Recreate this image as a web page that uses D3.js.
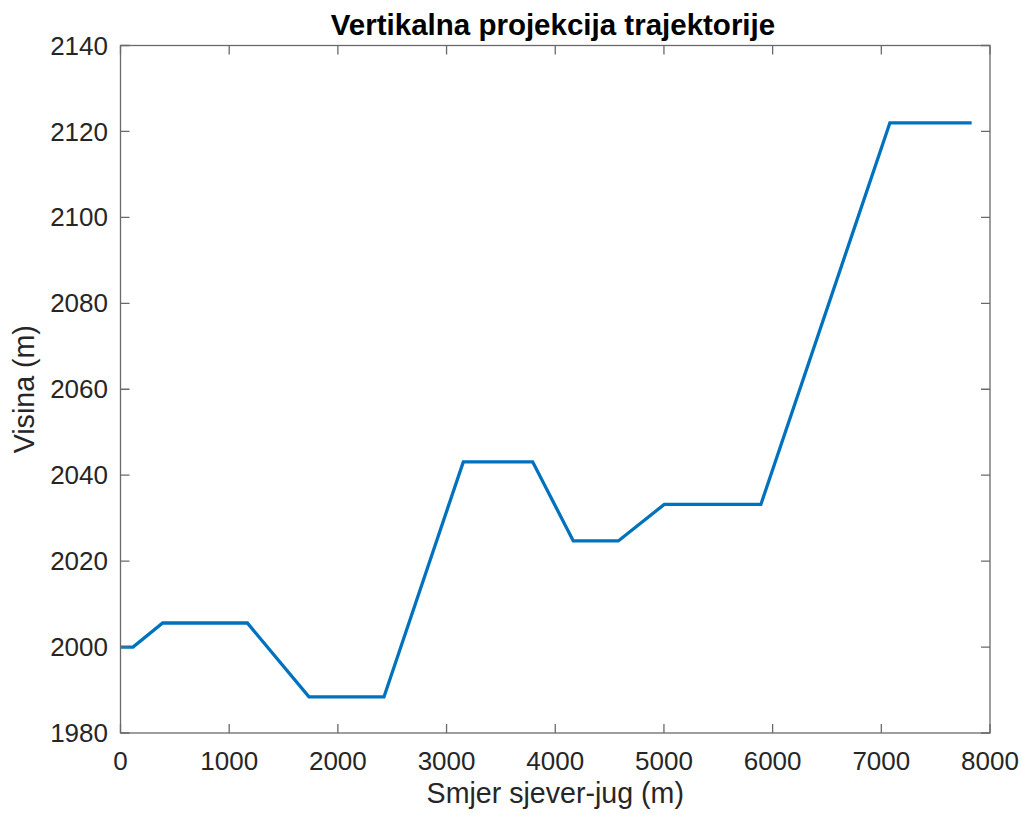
<!DOCTYPE html>
<html>
<head>
  <meta charset="utf-8">
  <title>Vertikalna projekcija</title>
  <style type="text/css">
body{
  margin: 0;
  background: #fff;
}
svg text{
  font-family: "Liberation Sans", Arial, Helvetica, sans-serif;
  fill: #262626;
}
  </style>
</head>
<body>
<div id="chart"></div>
<script src="https://cdn.jsdelivr.net/npm/d3@7"></script>
<script type="text/javascript">
// trajectory points
var distance = [0, 115, 388, 1167, 1734, 2424, 3154, 3792, 4166, 4580, 5003, 5892, 7079, 7831];
var height   = [2000, 2000, 2005.6, 2005.6, 1988.4, 1988.4, 2043.1, 2043.1, 2024.7, 2024.7, 2033.2, 2033.2, 2122, 2122];
var xTicks = [0, 1000, 2000, 3000, 4000, 5000, 6000, 7000, 8000];
var yTicks = [1980, 2000, 2020, 2040, 2060, 2080, 2100, 2120, 2140];

var W = 1022, H = 819;
// plot box edges (note: "top" is reserved by the browser window)
var boxL = 120.5, boxR = 990, boxT = 45.5, boxB = 733;

var svg = d3.select("#chart").append("svg")
    .attr("width", W)
    .attr("height", H);

var x = d3.scaleLinear().domain([0, 8000]).range([boxL, boxR]);
var y = d3.scaleLinear().domain([1980, 2140]).range([boxB, boxT]);

var axisColor = "#6a6a6a";
var tickLen = 9;

// data line
var line = d3.line()
    .x(function (d, i) { return x(distance[i]); })
    .y(function (d) { return y(d); });

svg.append("path")
    .datum(height)
    .attr("d", line)
    .attr("fill", "none")
    .attr("stroke", "#0072BD")
    .attr("stroke-width", 3.3)
    .attr("stroke-linejoin", "miter");

// box
svg.append("rect")
    .attr("x", boxL)
    .attr("y", boxT)
    .attr("width", boxR - boxL)
    .attr("height", boxB - boxT)
    .attr("fill", "none")
    .attr("stroke", axisColor)
    .attr("stroke-width", 1.3);

// ticks on all four sides, pointing inward
svg.selectAll(".xt")
    .data(xTicks)
    .enter()
    .append("path")
    .attr("d", function (d) {
      var px = x(d);
      return "M" + px + "," + boxB + "V" + (boxB - tickLen) +
             "M" + px + "," + boxT + "V" + (boxT + tickLen);
    })
    .attr("stroke", axisColor)
    .attr("stroke-width", 1.3);

svg.selectAll(".yt")
    .data(yTicks)
    .enter()
    .append("path")
    .attr("d", function (d) {
      var py = y(d);
      return "M" + boxL + "," + py + "H" + (boxL + tickLen) +
             "M" + boxR + "," + py + "H" + (boxR - tickLen);
    })
    .attr("stroke", axisColor)
    .attr("stroke-width", 1.3);

// tick labels
svg.selectAll(".xl")
    .data(xTicks)
    .enter()
    .append("text")
    .attr("x", function (d) { return x(d); })
    .attr("y", 770)
    .style("text-anchor", "middle")
    .style("font-size", "26px")
    .text(function (d) { return d; });

svg.selectAll(".yl")
    .data(yTicks)
    .enter()
    .append("text")
    .attr("x", 108)
    .attr("y", function (d) { return y(d); })
    .attr("dy", "0.35em")
    .style("text-anchor", "end")
    .style("font-size", "26px")
    .text(function (d) { return d; });

// axis labels
svg.append("text")
    .attr("x", (boxL + boxR) / 2)
    .attr("y", 803)
    .style("text-anchor", "middle")
    .style("font-size", "28.6px")
    .text("Smjer sjever-jug (m)");

svg.append("text")
    .attr("transform", "translate(34," + ((boxT + boxB) / 2) + ") rotate(-90)")
    .style("text-anchor", "middle")
    .style("font-size", "28.6px")
    .text("Visina (m)");

// title
svg.append("text")
    .attr("x", 553)
    .attr("y", 35)
    .style("text-anchor", "middle")
    .style("font-size", "29.5px")
    .style("font-weight", "bold")
    .style("fill", "#000")
    .text("Vertikalna projekcija trajektorije");
</script>
</body>
</html>
